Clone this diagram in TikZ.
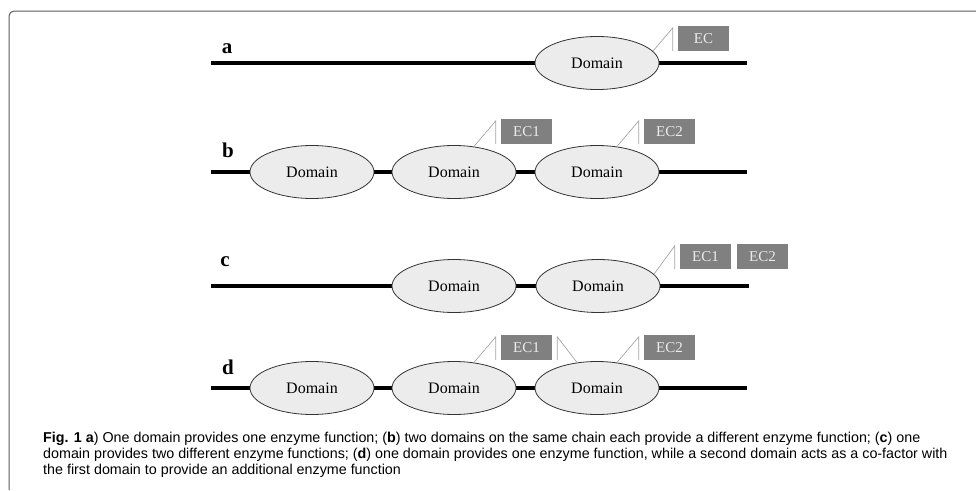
\documentclass[tikz,border=0pt]{standalone}
\usepackage{fontspec}
\setmainfont{Liberation Serif}
\newfontfamily\capfont{Liberation Sans}
\usetikzlibrary{shapes.geometric}
\definecolor{domfill}{RGB}{236,236,236}
\definecolor{ecgray}{RGB}{128,128,128}
\definecolor{calloutgray}{RGB}{165,165,165}
\definecolor{framegray}{RGB}{90,90,90}
\tikzset{
  backbone/.style={line width=4pt},
  domnode/.style={ellipse, draw=black!80, line width=0.8pt, fill=domfill,
    minimum width=124pt, minimum height=53pt, inner sep=0pt,
    font=\fontsize{16}{16}\selectfont},
  ecbox/.style={fill=ecgray, text=white!92!black, minimum width=51pt,
    minimum height=25pt, inner sep=0pt, font=\fontsize{15}{15}\selectfont},
  callout/.style={calloutgray, line width=0.7pt},
  rowlab/.style={anchor=base, font=\fontsize{21}{21}\selectfont\bfseries},
  capline/.style={anchor=base west, inner sep=0pt, font=\capfont\fontsize{14.3}{16}\selectfont},
}

\begin{document}
\begin{tikzpicture}[x=1pt,y=-1pt]
  % pixel units, y pointing down, 976 x 490
  \useasboundingbox (0,0) rectangle (976,490);
  \draw[framegray, line width=1pt, rounded corners=5pt] (9,490) -- (9,11) -- (976,11);
  % a: one domain, one EC
  \coordinate (a0) at (211,63); \coordinate (a1) at (747,63);
  \draw[backbone] (a0) -- (a1);
  \node[rowlab] (la) at (227,53) {a};
  \node[domnode] (da) at (597,63) {Domain};
  \node[ecbox] (eca) at (703.5,38.5) {EC};
  \draw[callout] (da.12) -- ([xshift=-5pt,yshift=-2pt]eca.north west) -- ([xshift=-5pt]eca.south west);
  % b: three domains, two of them with an EC
  \coordinate (b0) at (211,172); \coordinate (b1) at (747,172);
  \draw[backbone] (b0) -- (b1);
  \node[rowlab] (lb) at (228,157) {b};
  \foreach \n/\x in {1/312, 2/454, 3/597}
    \node[domnode] (db\n) at (\x,172) {Domain};
  \node[ecbox] (ecb1) at (526.5,131.5) {EC1};
  \node[ecbox] (ecb2) at (669.5,131.5) {EC2};
  \draw[callout] (db2.52) -- ([xshift=-5pt,yshift=-2pt]ecb1.north west) -- ([xshift=-5pt]ecb1.south west);
  \draw[callout] (db3.52) -- ([xshift=-5pt,yshift=-2pt]ecb2.north west) -- ([xshift=-5pt]ecb2.south west);
  % c: one domain, two ECs
  \coordinate (c0) at (211,286); \coordinate (c1) at (749,286);
  \draw[backbone] (c0) -- (c1);
  \node[rowlab] (lc) at (225,266) {c};
  \foreach \n/\x in {1/454, 2/598}
    \node[domnode] (dc\n) at (\x,286) {Domain};
  \node[ecbox] (ecc1) at (705.5,256.5) {EC1};
  \node[ecbox] (ecc2) at (762.5,256.5) {EC2};
  \draw[callout] (dc2.12) -- ([xshift=-5pt,yshift=-2pt]ecc1.north west) -- ([xshift=-5pt]ecc1.south west);
  % d: co-factor domain
  \coordinate (d0) at (211,388); \coordinate (d1) at (747,388);
  \draw[backbone] (d0) -- (d1);
  \node[rowlab] (ld) at (228,374) {d};
  \foreach \n/\x in {1/312, 2/454, 3/597}
    \node[domnode] (dd\n) at (\x,388) {Domain};
  \node[ecbox] (ecd1) at (526.5,347.5) {EC1};
  \node[ecbox] (ecd2) at (669.5,347.5) {EC2};
  \draw[callout] (dd2.52) -- ([xshift=-5pt,yshift=-2pt]ecd1.north west) -- ([xshift=-5pt]ecd1.south west);
  \draw[callout] (dd3.128) -- ([xshift=5pt,yshift=-2pt]ecd1.north east) -- ([xshift=5pt]ecd1.south east);
  \draw[callout] (dd3.52) -- ([xshift=-5pt,yshift=-2pt]ecd2.north west) -- ([xshift=-5pt]ecd2.south west);
  % caption, one node per line
  \node[capline] (cap1) at (43,442) {\textbf{Fig. 1 a}) One domain provides one enzyme function; (\textbf{b}) two domains on the same chain each provide a different enzyme function; (\textbf{c}) one};
  \node[capline] (cap2) at (43,458) {domain provides two different enzyme functions; (\textbf{d}) one domain provides one enzyme function, while a second domain acts as a co-factor with};
  \node[capline] (cap3) at (43,474) {the first domain to provide an additional enzyme function};
\end{tikzpicture}
\end{document}
